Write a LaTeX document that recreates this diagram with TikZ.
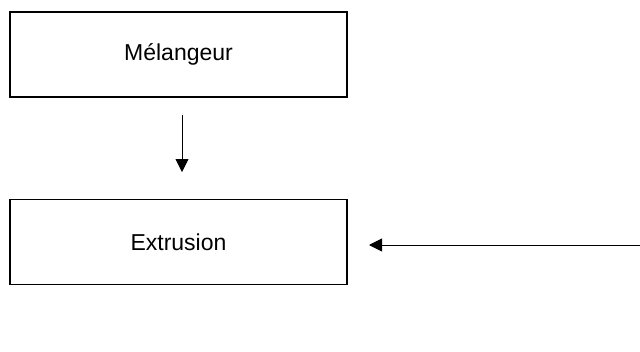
\documentclass[tikz,border=0pt]{standalone}
\usepackage{fontspec}
\setmainfont{Liberation Sans}
\usetikzlibrary{arrows.meta}
\begin{document}
\begin{tikzpicture}[x=1pt,y=-1pt,
  box/.style={draw, line width=1.6pt, minimum width=337pt, minimum height=85pt, inner sep=0pt, font=\fontsize{23}{27}\selectfont},
  conn/.style={line width=0.9pt, -{Triangle[length=13pt,width=13pt]}}]
\useasboundingbox (0,0) rectangle (640,351);
\node[box] (mel) at (178.5,54.5) {Mélangeur};
\node[box] (ext) at (178.5,242) {Extrusion};
\coordinate (a1) at (182,115);
\coordinate (a2) at (182,172);
\coordinate (b1) at (640,245);
\coordinate (b2) at (369,245);
\draw[conn] (a1) -- (a2);
\draw[conn] (b1) -- (b2);
\end{tikzpicture}
\end{document}
